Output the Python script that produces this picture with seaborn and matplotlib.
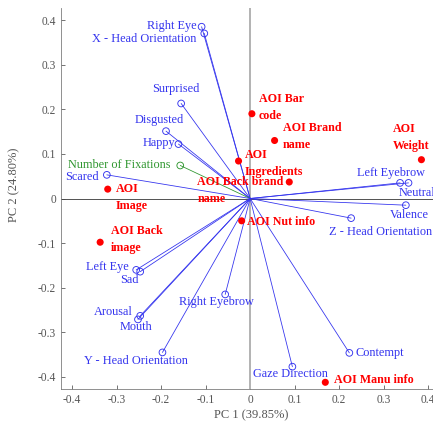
import matplotlib
matplotlib.use("Agg")
import matplotlib.pyplot as plt
import seaborn as sns
import pandas as pd

# PCA loadings (variables) and AOI scores
var_names = ["Right Eye", "X - Head Orientation", "Surprised", "Disgusted", "Happy",
             "Number of Fixations", "Scared", "Left Eyebrow", "Neutral", "Valence",
             "Z - Head Orientation", "Left Eye", "Sad", "Arousal", "Mouth",
             "Y - Head Orientation", "Right Eyebrow", "Gaze Direction", "Contempt"]
var_pc1 = [-0.109, -0.103, -0.155, -0.189, -0.161, -0.157, -0.322, 0.337, 0.356, 0.350,
           0.227, -0.256, -0.247, -0.247, -0.252, -0.197, -0.056, 0.095, 0.223]
var_pc2 = [0.385, 0.370, 0.213, 0.151, 0.122, 0.074, 0.053, 0.035, 0.035, -0.015,
           -0.044, -0.160, -0.164, -0.263, -0.271, -0.345, -0.215, -0.377, -0.346]
var_group = ["face"] * 5 + ["eye"] + ["face"] * 13

aoi_names = ["AOI Bar\ncode", "AOI Brand\nname", "AOI\nWeight", "AOI\nIngredients",
             "AOI Back brand\nname", "AOI\nImage", "AOI Back\nimage", "AOI Nut info",
             "AOI Manu info"]
aoi_pc1 = [0.004, 0.055, 0.385, -0.026, 0.088, -0.320, -0.337, -0.019, 0.169]
aoi_pc2 = [0.190, 0.130, 0.087, 0.084, 0.037, 0.021, -0.098, -0.050, -0.412]

x_ticks = [-0.4, -0.3, -0.2, -0.1, 0, 0.1, 0.2, 0.3, 0.4]
y_ticks = [-0.4, -0.3, -0.2, -0.1, 0, 0.1, 0.2, 0.3, 0.4]
x_label = "PC 1 (39.85%)"
y_label = "PC 2 (24.80%)"

BLUE = "#3333ee"
GREEN = "#2f962f"
RED = "#ff0000"
GREY = "#555555"

sns.set_style("ticks")
plt.rcParams["font.family"] = ["Liberation Serif", "DejaVu Serif"]

variables = pd.DataFrame({"name": var_names, "PC1": var_pc1, "PC2": var_pc2, "group": var_group})
aois = pd.DataFrame({"name": aoi_names, "PC1": aoi_pc1, "PC2": aoi_pc2})

fig = plt.figure(figsize=(433 / 72, 430 / 72), dpi=72)
ax = fig.add_axes([61 / 433, 41 / 430, 380 / 433, 381 / 430])
ax.set_xlim(-0.425, 0.429)
ax.set_ylim(-0.427, 0.427)

# reference lines through the origin
ax.axvline(0, color="#b4b4b4", lw=2.0, zorder=1)
ax.axhline(0, color="#444444", lw=0.9, zorder=1)

# loading vectors from the origin
colors = {"face": BLUE, "eye": GREEN}
for _, r in variables.iterrows():
    ax.plot([0, r.PC1], [0, r.PC2], color=colors[r.group], lw=0.8, zorder=2)

sns.scatterplot(data=variables, x="PC1", y="PC2", hue="group", palette=colors,
                marker="o", s=45, facecolors="none", linewidth=0.9, legend=False,
                ax=ax, zorder=3)
# open circles: edge colour follows the group
pts = ax.collections[-1]
pts.set_facecolor("none")
pts.set_edgecolor([colors[g] for g in var_group])

sns.scatterplot(data=aois, x="PC1", y="PC2", color=RED, s=50, edgecolor="none",
                legend=False, ax=ax, zorder=4)

# variable labels: (dx, dy, ha) offsets in points
var_offsets = {
    "Right Eye": (-5, 1, "right"),
    "X - Head Orientation": (-8, -6, "right"),
    "Surprised": (-5, 14, "center"),
    "Disgusted": (-7, 11, "center"),
    "Happy": (-3, 1, "right"),
    "Number of Fixations": (-10, 0, "right"),
    "Scared": (-8, -2, "right"),
    "Left Eyebrow": (-9, 10, "center"),
    "Neutral": (-10, -10, "left"),
    "Valence": (4, -10, "center"),
    "Z - Head Orientation": (29, -14, "center"),
    "Left Eye": (-7, 3, "right"),
    "Sad": (-2, -8, "right"),
    "Arousal": (-7, 4, "right"),
    "Mouth": (-2, -8, "center"),
    "Y - Head Orientation": (-27, -9, "center"),
    "Right Eyebrow": (-9, -8, "center"),
    "Gaze Direction": (-2, -7, "center"),
    "Contempt": (6, 0, "left"),
}
for _, r in variables.iterrows():
    dx, dy, ha = var_offsets[r["name"]]
    ax.annotate(r["name"], (r.PC1, r.PC2), xytext=(dx, dy), textcoords="offset points",
                ha=ha, va="center", fontsize=12.2, color=colors[r.group], zorder=5,
                annotation_clip=False)

aoi_offsets = {
    "AOI Bar\ncode": (7, 6),
    "AOI Brand\nname": (8, 4),
    "AOI\nWeight": (-29, 22),
    "AOI\nIngredients": (6, -2.5),
    "AOI Back brand\nname": (-92, -8.5),
    "AOI\nImage": (8, -8.5),
    "AOI Back\nimage": (11, 3),
    "AOI Nut info": (5, -1),
    "AOI Manu info": (9, 2),
}
for _, r in aois.iterrows():
    dx, dy = aoi_offsets[r["name"]]
    ax.annotate(r["name"], (r.PC1, r.PC2), xytext=(dx, dy), textcoords="offset points",
                ha="left", va="center", fontsize=12, fontweight="bold", color=RED,
                linespacing=1.55, zorder=6, annotation_clip=False)

ax.set_xticks(x_ticks)
ax.set_xticklabels([f"{t:g}" for t in x_ticks])
ax.set_yticks(y_ticks)
ax.set_yticklabels([f"{t:g}" for t in y_ticks])
ax.tick_params(direction="in", length=4, width=0.8, colors=GREY, labelsize=11.5, pad=5)
ax.set_xlabel(x_label, fontsize=12.5, color=GREY, labelpad=3)
ax.set_ylabel(y_label, fontsize=12.5, color=GREY)
ax.yaxis.set_label_coords(-0.108, 0.537)

sns.despine(ax=ax)
for s in ("left", "bottom"):
    ax.spines[s].set_color("#777777")
    ax.spines[s].set_linewidth(0.8)

fig.savefig("out.png", dpi=72)
